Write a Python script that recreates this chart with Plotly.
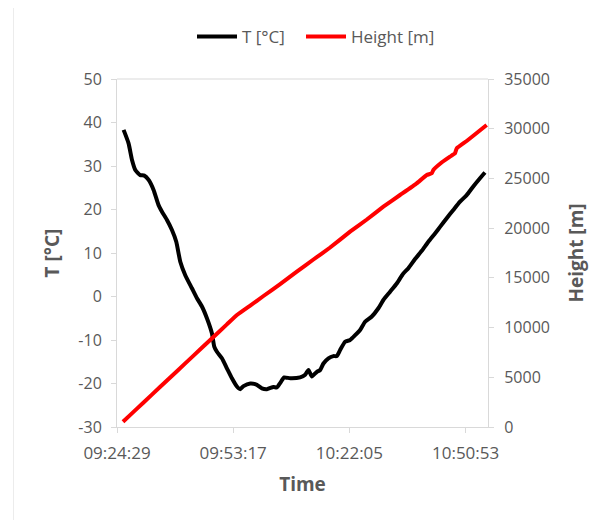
import plotly.graph_objects as go

DAY = "2020-01-01 "

# Temperature series (time, °C)
t_times = ["09:26:07", "09:27:21", "09:28:12", "09:29:01", "09:30:15", "09:31:15", "09:32:19",
           "09:33:33", "09:34:47", "09:35:38", "09:36:52", "09:38:06", "09:39:10", "09:40:10",
           "09:41:24", "09:43:03", "09:44:18", "09:45:32", "09:46:46", "09:48:01", "09:48:35",
           "09:49:15", "09:50:29", "09:51:43", "09:52:58", "09:54:12", "09:55:01", "09:55:50",
           "09:57:30", "09:59:09", "10:00:23", "10:01:38", "10:03:16", "10:04:06", "10:04:55",
           "10:05:55", "10:07:24", "10:09:52", "10:11:07", "10:11:56", "10:12:46", "10:14:01",
           "10:14:50", "10:15:39", "10:16:53", "10:18:07", "10:18:58", "10:19:47", "10:21:01",
           "10:22:15", "10:23:30", "10:24:44", "10:25:58", "10:27:38", "10:29:16", "10:30:30",
           "10:32:10", "10:33:49", "10:35:27", "10:36:42", "10:38:21", "10:40:01", "10:41:39",
           "10:43:18", "10:44:33", "10:46:12", "10:47:50", "10:49:30", "10:51:09", "10:52:47",
           "10:54:27", "10:55:41"]
t_values = [38.3, 35.2, 31.4, 29.1, 27.9, 27.8, 26.8,
            24.5, 21.0, 19.5, 17.6, 15.3, 12.6, 8.0,
            4.9, 1.9, -0.4, -2.3, -5.0, -8.5, -11.5,
            -12.7, -14.2, -16.5, -18.8, -20.7, -21.3, -20.6,
            -20.0, -20.3, -21.1, -21.3, -20.8, -20.9, -19.9,
            -18.6, -18.8, -18.6, -18.0, -16.9, -18.4, -17.3,
            -16.9, -15.4, -14.2, -13.7, -13.7, -12.3, -10.4,
            -10.0, -8.9, -7.7, -5.8, -4.6, -2.7, -0.8,
            1.1, 3.0, 5.3, 6.5, 8.6, 10.5, 12.6,
            14.5, 16.0, 18.0, 19.9, 21.8, 23.3, 25.3,
            27.2, 28.5]

# Height series (time, m)
h_times = ["09:25:58", "09:27:47", "09:31:04", "09:35:12", "09:39:20", "09:43:27", "09:47:35",
           "09:51:43", "09:54:12", "09:57:30", "10:00:47", "10:04:55", "10:09:03", "10:13:10",
           "10:17:18", "10:22:15", "10:26:24", "10:30:30", "10:34:38", "10:38:46", "10:41:15",
           "10:42:29", "10:42:53", "10:44:47", "10:47:01", "10:48:15", "10:48:41", "10:51:09",
           "10:53:38", "10:56:06"]
h_values = [530, 1217, 2470, 4043, 5612, 7181, 8750,
            10319, 11264, 12219, 13175, 14380, 15619, 16845,
            18052, 19641, 20868, 22156, 23332, 24509, 25344,
            25515, 25846, 26550, 27184, 27526, 28029, 28763,
            29568, 30372]

x_tick_labels = ["09:24:29", "09:53:17", "10:22:05", "10:50:53"]
t_ticks = [-30, -20, -10, 0, 10, 20, 30, 40, 50]
h_ticks = [0, 5000, 10000, 15000, 20000, 25000, 30000, 35000]

FONT = "Open Sans"
GREY = "#595959"
AXC = "#d9d9d9"

# the page body has an 8px margin; figure is sized so that the page matches the window
W, H = 607, 512

fig = go.Figure()
fig.add_trace(go.Scatter(
    x=[DAY + s for s in t_times], y=t_values, name="T [°C]", mode="lines",
    line=dict(color="black", width=4, shape="spline", smoothing=0.5), yaxis="y",
    legend="legend"))
fig.add_trace(go.Scatter(
    x=[DAY + s for s in h_times], y=h_values, name="Height [m]", mode="lines",
    line=dict(color="#ff0000", width=4, shape="spline", smoothing=0.3), yaxis="y2",
    legend="legend2"))

leg_common = dict(orientation="h", xref="container", yref="container",
                  xanchor="left", y=1 - 29 / H, yanchor="middle",
                  font=dict(size=17, color=GREY), itemwidth=40,
                  bgcolor="rgba(0,0,0,0)")

fig.update_layout(
    width=W, height=H,
    margin=dict(l=109, r=127, t=71, b=93, autoexpand=False),
    paper_bgcolor="white", plot_bgcolor="white",
    font=dict(family=FONT, size=16, color=GREY),
    showlegend=True,
    legend=dict(x=184 / W, **leg_common),
    legend2=dict(x=293 / W, **leg_common),
    xaxis=dict(
        type="date",
        range=[DAY + "09:24:28.8", DAY + "10:56:26"],
        tickvals=[DAY + s for s in x_tick_labels],
        ticktext=x_tick_labels,
        ticks="outside", ticklen=5, tickcolor=AXC,
        showline=True, linecolor=AXC, linewidth=1,
        showgrid=False, zeroline=False,
        ticklabelstandoff=6,
        tickfont=dict(size=17, color=GREY),
        title=dict(text="<b>Time</b>", font=dict(size=19, color=GREY), standoff=14),
    ),
    yaxis=dict(
        range=[-30, 50],
        tickvals=t_ticks, ticktext=[str(v) for v in t_ticks],
        ticks="outside", ticklen=5, tickcolor=AXC,
        showline=True, linecolor=AXC, linewidth=1,
        showgrid=False, zeroline=False,
        ticklabelstandoff=6,
        tickfont=dict(size=16, color=GREY),
        title=dict(text="<b>T [°C]</b>", font=dict(size=19, color=GREY), standoff=13),
    ),
    yaxis2=dict(
        range=[0, 35000], overlaying="y", side="right",
        tickvals=h_ticks, ticktext=[str(v) for v in h_ticks],
        ticks="outside", ticklen=5, tickcolor=AXC,
        showline=True, linecolor=AXC, linewidth=1,
        showgrid=False, zeroline=False,
        ticklabelstandoff=7,
        tickfont=dict(size=16, color=GREY),
        title=dict(text="<b>Height [m]</b>", font=dict(size=19, color=GREY), standoff=20),
    ),
    shapes=[
        # plot-area top border
        dict(type="line", xref="paper", yref="paper", x0=0, x1=1, y0=1, y1=1,
             line=dict(color=AXC, width=1)),
        # chart-area border (top and left)
        dict(type="line", xref="paper", yref="paper", x0=-0.279, x1=1.36, y0=1.207, y1=1.207,
             line=dict(color="#ececec", width=1)),
        dict(type="line", xref="paper", yref="paper", x0=-0.279, x1=-0.279, y0=1.207, y1=-0.3,
             line=dict(color="#ececec", width=1)),
    ],
)

fig.write_html("out.html")
